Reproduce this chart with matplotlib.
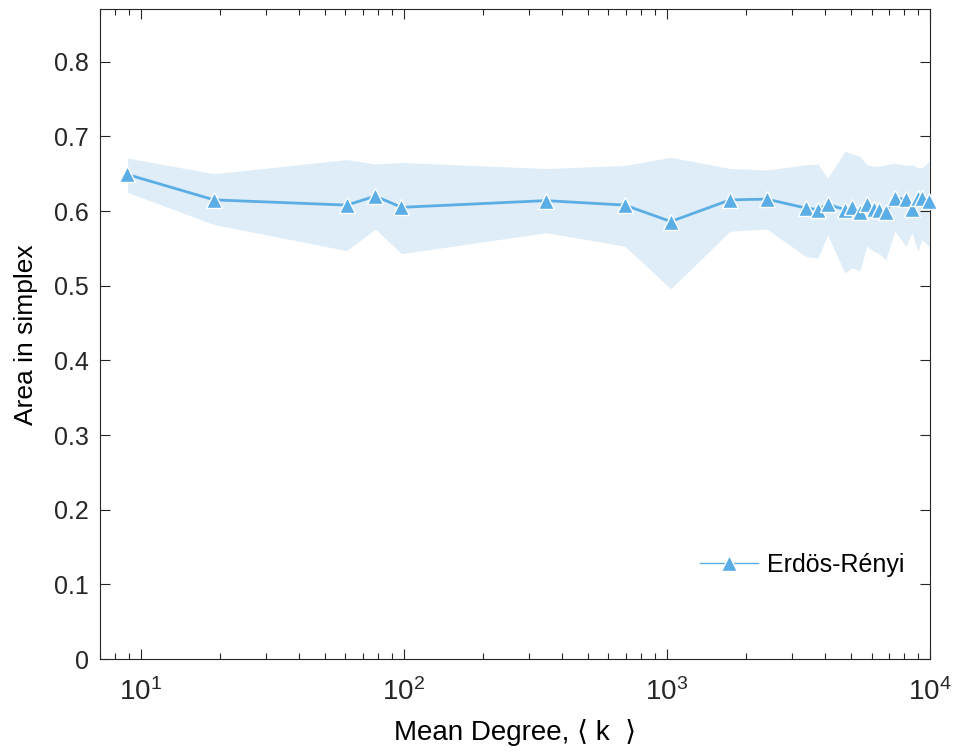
import numpy as np
import matplotlib.pyplot as plt
from matplotlib.lines import Line2D

plt.rcParams['font.family'] = ['Liberation Sans', 'DejaVu Sans']

# mean degree values
k = [8.9, 19, 60.7, 78, 98, 347, 692, 1035, 1740, 2400,
     3380, 3750, 4090, 4750, 5050, 5420, 5760, 6120, 6400, 6800,
     7360, 8110, 8550, 9000, 9330, 9910]
# mean area in simplex
area = [0.649, 0.615, 0.608, 0.620, 0.605, 0.614, 0.608, 0.586, 0.615, 0.616,
        0.604, 0.602, 0.609, 0.602, 0.606, 0.599, 0.609, 0.603, 0.601, 0.599,
        0.617, 0.616, 0.603, 0.618, 0.617, 0.613]
# band limits
upper = [0.671, 0.650, 0.669, 0.663, 0.665, 0.657, 0.661, 0.672, 0.657, 0.655,
         0.662, 0.663, 0.644, 0.680, 0.677, 0.673, 0.662, 0.660, 0.660, 0.662,
         0.664, 0.661, 0.662, 0.658, 0.658, 0.666]
lower = [0.625, 0.582, 0.547, 0.576, 0.543, 0.571, 0.553, 0.496, 0.573, 0.576,
         0.539, 0.537, 0.568, 0.517, 0.524, 0.520, 0.553, 0.546, 0.543, 0.535,
         0.573, 0.553, 0.571, 0.546, 0.562, 0.553]

line_color = "#5BAEE5"
fill_color = "#DEEDF8"

fig = plt.figure(figsize=(9.55, 7.53), dpi=100)
ax = fig.add_axes([0.1047, 0.1248, 0.869, 0.8626])

ax.fill_between(k, lower, upper, color=fill_color, linewidth=0, zorder=1)
ax.plot(k, area, color=line_color, linewidth=2, marker="^", markersize=12,
        markerfacecolor=line_color, markeredgecolor="white", markeredgewidth=1,
        zorder=3, clip_on=False)

ax.set_xscale("log")
ax.set_xlim(7, 10000)
ax.set_ylim(0, 0.87)
ax.set_yticks(np.arange(0, 0.81, 0.1))
ax.set_yticklabels(["0", "0.1", "0.2", "0.3", "0.4", "0.5", "0.6", "0.7", "0.8"])

ax.tick_params(which="both", direction="in", top=True, right=True, colors="#262626")
ax.tick_params(axis="y", labelsize=18, pad=8)
ax.tick_params(axis="x", labelsize=20, pad=14)
ax.tick_params(which="major", length=7, width=0.8)
ax.tick_params(which="minor", length=4, width=0.8)
for s in ax.spines.values():
    s.set_color("#262626")
    s.set_linewidth(0.8)

ax.set_xlabel("Mean Degree, \u27e8 k  \u27e9", fontsize=20)
ax.set_ylabel("Area in simplex", fontsize=19)
ax.xaxis.set_label_coords(0.5, -0.092)
ax.yaxis.set_label_coords(-0.075, 0.5)

handle = Line2D([], [], color=line_color, linewidth=1, marker="^", markersize=12,
                markerfacecolor=line_color, markeredgecolor="white")
ax.legend([handle], ["Erdös-Rényi"], loc="center right", bbox_to_anchor=(0.996, 0.145),
          frameon=False, fontsize=18, handlelength=2.3, handletextpad=0.35)

fig.savefig("out.png", dpi=100)
